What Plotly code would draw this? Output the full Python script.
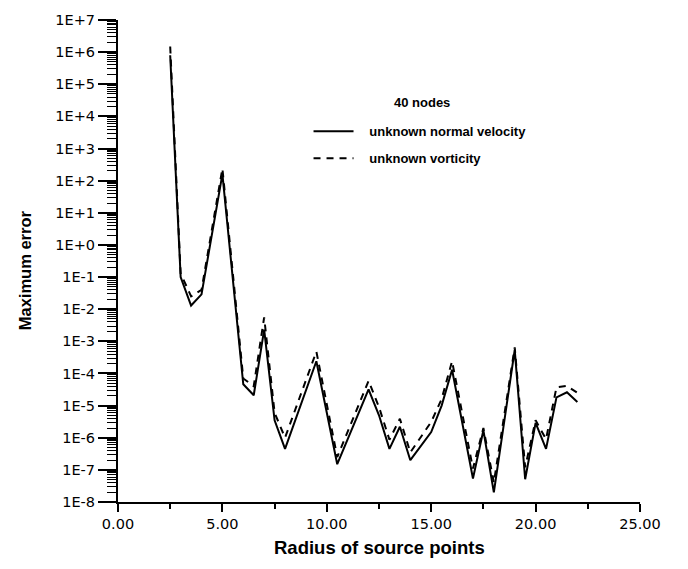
import plotly.graph_objects as go

radius = [2.5, 3.0, 3.5, 4.0, 5.0, 6.0, 6.5, 7.0, 7.5, 8.0, 9.5, 10.5, 12.0, 12.5,
          13.0, 13.5, 14.0, 15.0, 15.5, 16.0, 17.0, 17.5, 18.0, 19.0, 19.5, 20.0,
          20.5, 21.0, 21.5, 22.0]
err_normal_velocity = [8e5, 1.0e-1, 1.3e-2, 2.9e-2, 1.6e2, 4.6e-5, 2.1e-5, 2.3e-3,
                       3.5e-6, 4.5e-7, 2.4e-4, 1.5e-7, 3.2e-5, 5e-6, 4.5e-7, 2.2e-6,
                       2e-7, 1.5e-6, 1e-5, 1.3e-4, 5.4e-8, 1.7e-6, 2e-8, 5.4e-4,
                       5.1e-8, 2.9e-6, 4.5e-7, 1.8e-5, 2.6e-5, 1.3e-5]
err_vorticity = [1.5e6, 1.3e-1, 2.5e-2, 4e-2, 2.4e2, 7e-5, 4e-5, 5.6e-3, 6e-6, 1e-6,
                 4.8e-4, 2.5e-7, 5.9e-5, 9e-6, 8.7e-7, 3.9e-6, 3.5e-7, 3.1e-6, 1.6e-5,
                 2.4e-4, 1.1e-7, 2e-6, 4e-8, 6.5e-4, 1.2e-7, 3.5e-6, 9e-7, 3.7e-5,
                 4.1e-5, 2.5e-5]

y_exponents = list(range(-8, 8))
y_tickvals = [10.0 ** k for k in y_exponents]
y_ticktext = ["1E%+d" % k for k in y_exponents]
y_minor = [m * 10.0 ** k for k in range(-8, 7) for m in range(2, 10)]
x_tickvals = [0, 5, 10, 15, 20, 25]
x_ticktext = ["0.00", "5.00", "10.00", "15.00", "20.00", "25.00"]

pad = "\u00a0\u00a0\u00a0"
fig = go.Figure()
fig.add_trace(go.Scatter(
    x=radius, y=err_normal_velocity, mode="lines",
    name=pad + "unknown normal velocity", legendgroup="a",
    line=dict(color="black", width=2)))
fig.add_trace(go.Scatter(
    x=radius, y=err_vorticity, mode="lines",
    name=pad + "unknown vorticity", legendgroup="b",
    line=dict(color="black", width=2, dash="7px,6px")))

fig.update_layout(
    width=688, height=569,
    margin=dict(l=118, r=48, t=12, b=67),
    paper_bgcolor="white", plot_bgcolor="white",
    font=dict(family="DejaVu Sans", size=14.5, color="black"),
    showlegend=True,
    legend=dict(
        x=0.365, y=0.80, xanchor="left", yanchor="top",
        bgcolor="rgba(0,0,0,0)", borderwidth=0,
        font=dict(family="Liberation Sans", size=13, weight="bold"),
        traceorder="grouped", tracegroupgap=7, itemwidth=40,
    ),
    annotations=[
        dict(text="40 nodes", xref="paper", yref="paper",
             x=0.582, y=0.828, xanchor="center", yanchor="middle", showarrow=False,
             font=dict(family="Liberation Sans", size=13, weight="bold")),
        dict(text="Maximum error", xref="paper", yref="paper",
             x=-0.2, y=0.48, textangle=-90, showarrow=False,
             font=dict(family="Liberation Sans", size=16.5, weight="bold")),
        dict(text="Radius of source points", xref="paper", yref="paper",
             x=0.5, y=-0.095, yanchor="middle", showarrow=False,
             font=dict(family="Liberation Sans", size=18.5, weight="bold")),
    ],
)
fig.update_xaxes(
    range=[0, 25], tickvals=x_tickvals, ticktext=x_ticktext,
    showline=True, linecolor="black", linewidth=2, mirror=False,
    ticks="outside", ticklen=8, tickwidth=2, tickcolor="black",
    showgrid=False, zeroline=False,
    minor=dict(ticks="outside", ticklen=5, tickwidth=2, tickcolor="black",
               dtick=2.5, showgrid=False),
)
fig.update_yaxes(
    type="log", range=[-8, 7], tickvals=y_tickvals, ticktext=y_ticktext,
    showline=True, linecolor="black", linewidth=2, mirror=False,
    ticks="outside", ticklen=18, tickwidth=1.5, tickcolor="black",
    showgrid=False, zeroline=False,
    minor=dict(ticks="outside", ticklen=9, tickwidth=1, tickcolor="black",
               tickvals=y_minor, showgrid=False),
)

fig.write_html("out.html")
